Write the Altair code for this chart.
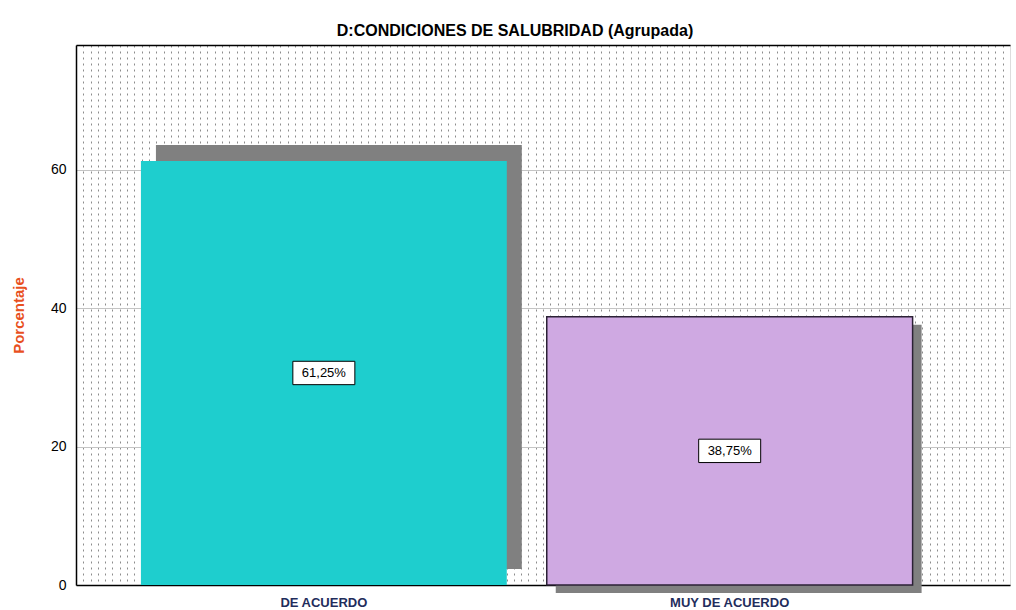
import altair as alt
import pandas as pd

categories = ["DE ACUERDO", "MUY DE ACUERDO"]
percentages = [61.25, 38.75]
bar_colors = ["#1ECECE", "#CFA9E2"]
y_ticks = [0, 20, 40, 60]
title_text = "D:CONDICIONES DE SALUBRIDAD (Agrupada)"

df = pd.DataFrame({"cat": categories, "pct": percentages})

W, H = 934, 540
FONT = "Liberation Sans"

xscale = alt.Scale(domain=categories, paddingInner=0.0985, paddingOuter=0.2, align=0.4)
yscale = alt.Scale(domain=[0, 78], nice=False)

x_axis = alt.Axis(title=None, labelAngle=0, labelFont=FONT, labelFontWeight="bold",
                  labelFontSize=13, labelColor="#1F2D5C", ticks=False, domain=True,
                  domainColor="#000000", domainWidth=1.5, labelPadding=11, grid=False)
y_axis = alt.Axis(title="Porcentaje", values=y_ticks, grid=True, gridColor="#c4c4c4",
                  ticks=False, labelPadding=10, labelFontSize=14, labelFont=FONT,
                  labelColor="#000000", titleFont=FONT, titleFontSize=15,
                  titleFontWeight="bold", titleColor="#E8501E", titlePadding=24,
                  domainColor="#000000", domainWidth=1.5)

x_enc = alt.X("cat:N", scale=xscale, sort=categories, axis=x_axis)
y_enc = alt.Y("pct:Q", scale=yscale, axis=y_axis)

base = alt.Chart(df)

shadow1 = base.transform_filter(alt.datum.cat == categories[0]).mark_bar(
    color="#808080", xOffset=15, x2Offset=15, yOffset=-16, y2Offset=-16
).encode(x=x_enc, y=y_enc)

shadow2 = base.transform_filter(alt.datum.cat == categories[1]).mark_bar(
    color="#808080", xOffset=9, x2Offset=9, yOffset=8, y2Offset=8
).encode(x=x_enc, y=y_enc)

bars = base.mark_bar(stroke="#2b2135").encode(
    x=x_enc, y=y_enc,
    color=alt.Color("cat:N", scale=alt.Scale(domain=categories, range=bar_colors), legend=None),
    strokeWidth=alt.condition(alt.datum.cat == categories[1], alt.value(1.5), alt.value(0)),
)

labeled = base.transform_calculate(
    mid="datum.pct / 2",
    lbl="replace(format(datum.pct, '.2f'), '.', ',') + '%'",
)

boxes = labeled.mark_point(
    shape="M-1,-0.377L1,-0.377L1,0.377L-1,0.377Z", size=62 * 62, filled=True,
    fill="white", stroke="#000000", strokeWidth=1, opacity=1,
).encode(x=x_enc, y=alt.Y("mid:Q", scale=yscale, axis=y_axis))

texts = labeled.mark_text(font=FONT, fontSize=13, color="#000000").encode(
    x=x_enc, y=alt.Y("mid:Q", scale=yscale, axis=y_axis), text="lbl:N"
)

grid_layer = alt.Chart(pd.DataFrame({"g": [0, 128]})).mark_point(opacity=0).encode(
    x=alt.X("g:Q", scale=alt.Scale(domain=[0, 128], nice=False, zero=False),
            axis=alt.Axis(orient="top", values=list(range(1, 128)), grid=True,
                          gridDash=[2, 4], gridColor="#8c8c8c", gridWidth=1,
                          labels=False, ticks=False, domain=True,
                          domainColor="#000000", domainWidth=1.5, title=None)),
)

main = alt.layer(shadow1, shadow2, bars, boxes, texts)

chart = alt.layer(grid_layer, main).resolve_scale(x="independent").properties(
    width=W, height=H,
    padding={"left": 76, "top": 45, "right": 6, "bottom": 25},
    autosize=alt.AutoSizeParams(type="none"),
    title=alt.TitleParams(title_text, font=FONT, fontSize=16, fontWeight="bold",
                          anchor="middle", dx=-28, offset=6, color="#000000"),
).configure_view(stroke=None).configure(background="white")

chart.save("out.html", embed_options={"renderer": "svg", "actions": False})
